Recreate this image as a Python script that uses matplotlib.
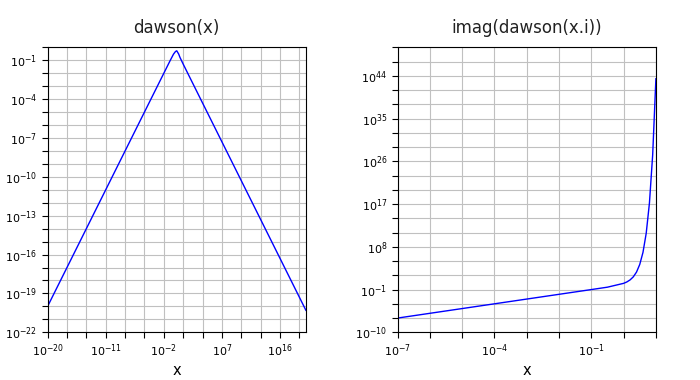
import numpy as np
import matplotlib
matplotlib.use('Agg')
import matplotlib.pyplot as plt
from matplotlib.ticker import FixedLocator, FuncFormatter, NullFormatter

# Left panel: dawson(x)
x_left = [1e-20, 1e-18, 1e-16, 1e-14, 1e-12, 1e-10, 1e-8, 1e-6, 1e-4, 1e-2,
          1e-1, 0.316, 0.63, 1.0, 2.0, 3.16, 10.0, 1e2, 1e4, 1e6, 1e8,
          1e10, 1e12, 1e14, 1e16, 1e18, 1e20]
y_left = [1e-20, 1e-18, 1e-16, 1e-14, 1e-12, 1e-10, 1e-8, 1e-6, 1e-4, 1e-2,
          0.0993, 0.298, 0.47, 0.538, 0.301, 0.166, 0.0503, 5e-3, 5e-5, 5e-7, 5e-9,
          5e-11, 5e-13, 5e-15, 5e-17, 5e-19, 5e-21]

# Right panel: imag(dawson(x.i))
x_right = [1e-7, 1e-6, 1e-5, 1e-4, 1e-3, 1e-2, 1e-1, 0.316, 1.0, 1.259,
           1.585, 1.995, 2.512, 3.162, 3.981, 5.012, 6.31, 7.943, 10.0]
y_right = [1e-7, 1e-6, 1e-5, 1e-4, 1e-3, 1e-2, 0.0997, 0.318, 2.03, 4.0,
           10.7, 47.2, 487.0, 1.95e4, 6.8e6, 7.2e10, 1.7e17, 2.2e27, 2.4e43]


def exp_fmt(v, pos):
    return r'$10^{%d}$' % int(round(np.log10(v)))


def style(ax, xlim, ylim, xmaj, xmin, ymaj, ymin, title):
    ax.set_xscale('log')
    ax.set_yscale('log')
    ax.set_xlim(*xlim)
    ax.set_ylim(*ylim)
    ax.xaxis.set_major_locator(FixedLocator(xmaj))
    ax.xaxis.set_minor_locator(FixedLocator(xmin))
    ax.yaxis.set_major_locator(FixedLocator(ymaj))
    ax.yaxis.set_minor_locator(FixedLocator(ymin))
    ax.xaxis.set_major_formatter(FuncFormatter(exp_fmt))
    ax.yaxis.set_major_formatter(FuncFormatter(exp_fmt))
    ax.xaxis.set_minor_formatter(NullFormatter())
    ax.yaxis.set_minor_formatter(NullFormatter())
    ax.grid(True, which='both', color='#c0c0c0', lw=0.8)
    ax.set_axisbelow(True)
    ax.tick_params(which='both', direction='out', length=4, width=0.8,
                   labelsize=8, top=False, right=False)
    ax.set_title(title, fontsize=12, pad=10, color='#222222')
    ax.set_xlabel('x', fontsize=10.5, labelpad=3)


fig = plt.figure(figsize=(7, 3.8), dpi=100)

ax1 = fig.add_axes([0.068, 0.1255, 0.369, 0.75])
ax1.plot(x_left, y_left, color='#0000ff', lw=1)
style(ax1, (1e-20, 1e20), (1e-22, 1e0),
      [10.0**e for e in range(-20, 21, 9)],
      [10.0**e for e in range(-20, 21, 3)],
      [10.0**e for e in range(-22, 1, 3)],
      [10.0**e for e in range(-22, 1)],
      'dawson(x)')

ax2 = fig.add_axes([0.568, 0.1255, 0.369, 0.75])
ax2.plot(x_right, y_right, color='#0000ff', lw=1)
style(ax2, (1e-7, 1e1), (1e-10, 1e50),
      [10.0**e for e in range(-7, 2, 3)],
      [10.0**e for e in range(-7, 2)],
      [10.0**e for e in range(-10, 51, 9)],
      [10.0**e for e in range(-10, 51, 3)],
      'imag(dawson(x.i))')

fig.savefig('out.png', dpi=100)
